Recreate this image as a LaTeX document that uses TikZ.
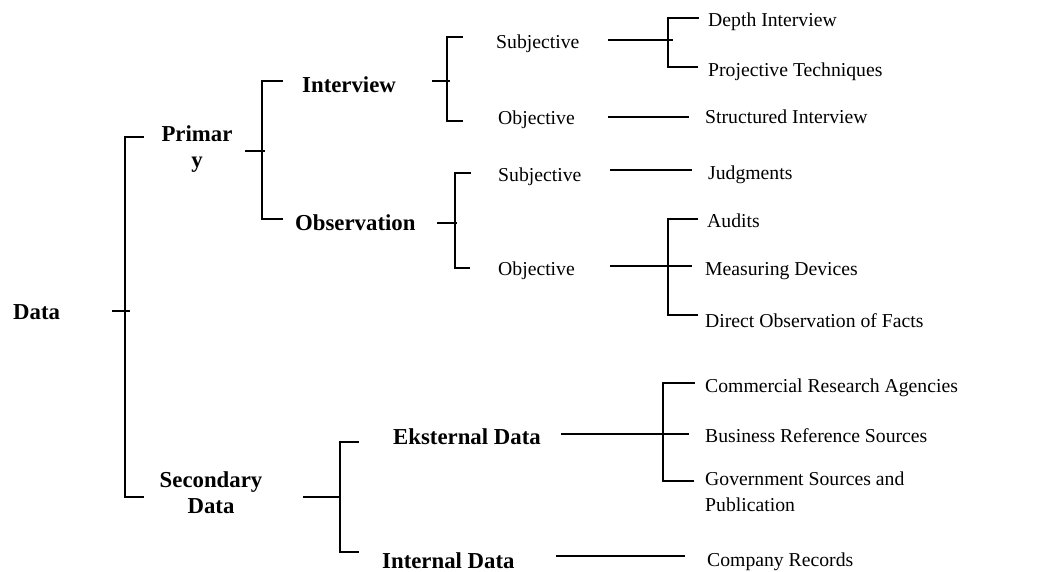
\documentclass[tikz,border=0pt]{standalone}
\usepackage{fontspec}
\setmainfont{Liberation Serif}
\begin{document}
\begin{tikzpicture}[x=1pt,y=-1pt,
  ln/.style={line width=1.7pt},
  reg/.style={font=\fontsize{19.7}{26}\selectfont, inner sep=0pt, text height=13pt, text depth=0pt, anchor=west},
  bld/.style={font=\fontsize{22.8}{26}\selectfont\bfseries, inner sep=0pt, text height=15pt, text depth=0pt, anchor=west},
  bldm/.style={font=\fontsize{22.8}{25.5}\selectfont\bfseries, inner sep=0pt, align=center, anchor=north},
  regm/.style={font=\fontsize{19.7}{26}\selectfont, inner sep=0pt, align=left, anchor=north west}]
\useasboundingbox (0,0) rectangle (1041,571);

% ---- texts ----
\node[bld] (data) at (13,312) {Data};
\node[bldm] (primary) at (197,125.5) {Primar\\y};
\node[bldm] (secondary) at (211,471.5) {Secondary\\Data};
\node[bld] (interview) at (302,85) {Interview};
\node[bld] (observation) at (295,223) {Observation};
\node[bld] (eksternal) at (393,437) {Eksternal Data};
\node[bld] (internal) at (382,560.5) {Internal Data};
\node[reg] (subjI) at (496,42) {Subjective};
\node[reg] (objI) at (498,118) {Objective};
\node[reg] (subjO) at (498,175) {Subjective};
\node[reg] (objO) at (498,269) {Objective};
\node[reg] (depth) at (708,20) {Depth Interview};
\node[reg] (proj) at (708,70) {Projective Techniques};
\node[reg] (struct) at (705,117) {Structured Interview};
\node[reg] (judg) at (708,173) {Judgments};
\node[reg] (audits) at (707,221) {Audits};
\node[reg] (meas) at (705,269) {Measuring Devices};
\node[reg] (direct) at (705,321) {Direct Observation of Facts};
\node[reg] (comm) at (705,386) {Commercial Research Agencies};
\node[reg] (bus) at (705,436) {Business Reference Sources};
\node[regm] (gov) at (705,471.5) {Government Sources and\\Publication};
\node[reg] (comp) at (707,560) {Company Records};

% ---- connector points ----
\coordinate (dataT) at (112,311); \coordinate (dataJ) at (125,311); \coordinate (dataTe) at (130,311);
\coordinate (priA) at (144,137); \coordinate (secA) at (144,497);

\coordinate (priT) at (245,151); \coordinate (priJ) at (262,151); \coordinate (priTe) at (265,151);
\coordinate (intA) at (283,81); \coordinate (obsA) at (283,219);

\coordinate (intT) at (432,81); \coordinate (intJ) at (447,81); \coordinate (intTe) at (450,81);
\coordinate (subjIA) at (463,37); \coordinate (objIA) at (463,121);

\coordinate (obsT) at (437,223); \coordinate (obsJ) at (455,223); \coordinate (obsTe) at (457,223);
\coordinate (subjOA) at (471,173); \coordinate (objOA) at (470,268);

\coordinate (subjIT) at (608,40); \coordinate (subjIJ) at (668,40); \coordinate (subjITe) at (673,40);
\coordinate (depthA) at (699,18); \coordinate (projA) at (698,67);

\coordinate (objIT) at (608,117); \coordinate (structA) at (689,117);
\coordinate (subjOT) at (610,170); \coordinate (judgA) at (692,170);

\coordinate (objOT) at (610,266); \coordinate (objOJ) at (668,266); \coordinate (measA) at (692,266);
\coordinate (auditsA) at (698,219); \coordinate (directA) at (698,315);

\coordinate (secT) at (303,497); \coordinate (secJ) at (340,497);
\coordinate (eksA) at (359,442); \coordinate (inA) at (359,552);

\coordinate (eksT) at (561,434); \coordinate (eksJ) at (663,434); \coordinate (busA) at (689,434);
\coordinate (commA) at (695,383); \coordinate (govA) at (694,481);

\coordinate (inT) at (556,556); \coordinate (compA) at (685,556);

% ---- connectors ----
\draw[ln] (dataT) -- (dataTe);
\draw[ln] (priA) -| (dataJ) |- (secA);

\draw[ln] (priT) -- (priTe);
\draw[ln] (intA) -| (priJ) |- (obsA);

\draw[ln] (intT) -- (intTe);
\draw[ln] (subjIA) -| (intJ) |- (objIA);

\draw[ln] (obsT) -- (obsTe);
\draw[ln] (subjOA) -| (obsJ) |- (objOA);

\draw[ln] (subjIT) -- (subjITe);
\draw[ln] (depthA) -| (subjIJ) |- (projA);

\draw[ln] (objIT) -- (structA);
\draw[ln] (subjOT) -- (judgA);

\draw[ln] (objOT) -- (measA);
\draw[ln] (auditsA) -| (objOJ) |- (directA);

\draw[ln] (secT) -- (secJ);
\draw[ln] (eksA) -| (secJ) |- (inA);

\draw[ln] (eksT) -- (busA);
\draw[ln] (commA) -| (eksJ) |- (govA);

\draw[ln] (inT) -- (compA);
\end{tikzpicture}
\end{document}
